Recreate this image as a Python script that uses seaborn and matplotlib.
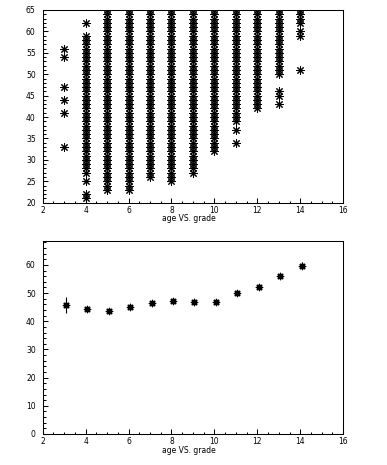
"""
Age vs grade: scatter of all ages per grade and the profile
(mean age per grade with error on the mean).
"""

import numpy as np
import pandas as pd
import matplotlib
matplotlib.use('Agg')
import matplotlib.pyplot as plt
from matplotlib.ticker import MultipleLocator
import seaborn as sns

# ages seen in each grade
ages_g3 = [33, 41, 44, 47, 54, 56]
ages_g4 = [21, 22, 25, 27, 28, 29, 30, 31, 32, 33, 34, 35, 36, 37, 38, 39, 40,
           41, 42, 43, 44, 45, 46, 47, 48, 49, 50, 51, 52, 53, 54, 55, 56, 57,
           58, 59, 62]
ages_g5 = [23, 24, 25, 26, 27, 28, 29, 30, 31, 32, 33, 34, 35, 36, 37, 38, 39,
           40, 41, 42, 43, 44, 45, 46, 47, 48, 49, 50, 51, 52, 53, 54, 55, 56,
           57, 58, 59, 60, 61, 62, 63, 64, 65]
ages_g6 = [23, 24, 25, 26, 27, 28, 29, 30, 31, 32, 33, 34, 35, 36, 37, 38, 39,
           40, 41, 42, 43, 44, 45, 46, 47, 48, 49, 50, 51, 52, 53, 54, 55, 56,
           57, 58, 59, 60, 61, 62, 63, 64, 65]
ages_g7 = [26, 27, 28, 29, 30, 31, 32, 33, 34, 35, 36, 37, 38, 39, 40, 41, 42,
           43, 44, 45, 46, 47, 48, 49, 50, 51, 52, 53, 54, 55, 56, 57, 58, 59,
           60, 61, 62, 63, 64, 65]
ages_g8 = [25, 26, 27, 28, 29, 30, 31, 32, 33, 34, 35, 36, 37, 38, 39, 40, 41,
           42, 43, 44, 45, 46, 47, 48, 49, 50, 51, 52, 53, 54, 55, 56, 57, 58,
           59, 60, 61, 62, 63, 64, 65]
ages_g9 = [27, 28, 29, 30, 31, 32, 33, 34, 35, 36, 37, 38, 39, 40, 41, 42, 43,
           44, 45, 46, 47, 48, 49, 50, 51, 52, 53, 54, 55, 56, 57, 58, 59, 60,
           61, 62, 63, 64, 65]
ages_g10 = [32, 33, 34, 35, 36, 37, 38, 39, 40, 41, 42, 43, 44, 45, 46, 47, 48,
            49, 50, 51, 52, 53, 54, 55, 56, 57, 58, 59, 60, 61, 62, 63, 64, 65]
ages_g11 = [34, 37, 39, 40, 41, 42, 43, 44, 45, 46, 47, 48, 49, 50, 51, 52, 53,
            54, 55, 56, 57, 58, 59, 60, 61, 62, 63, 64, 65]
ages_g12 = [42, 43, 44, 45, 46, 47, 48, 49, 50, 51, 52, 53, 54, 55, 56, 57, 58,
            59, 60, 61, 62, 63, 64, 65]
ages_g13 = [43, 45, 46, 50, 51, 52, 53, 54, 55, 56, 57, 58, 59, 60, 61, 62, 63,
            64, 65]
ages_g14 = [51, 59, 60, 62, 63, 64, 65]

grades = [3, 4, 5, 6, 7, 8, 9, 10, 11, 12, 13, 14]
ages_by_grade = [ages_g3, ages_g4, ages_g5, ages_g6, ages_g7, ages_g8,
                 ages_g9, ages_g10, ages_g11, ages_g12, ages_g13, ages_g14]

# profile: mean age per grade and its error
mean_age = [45.8, 44.5, 43.6, 45.0, 46.4, 47.3, 46.7, 46.7, 49.9, 52.3, 56.0, 59.8]
mean_err = [2.85, 0.45, 0.35, 0.3, 0.3, 0.3, 0.3, 0.3, 0.4, 0.45, 0.6, 1.3]

# build a long table for the scatter
rows = []
for g, ages in zip(grades, ages_by_grade):
    for a in ages:
        rows.append((g, a))
scatter_df = pd.DataFrame(rows, columns=['grade', 'age'])

# profile bins are 0.14 wide, markers sit at the bin centre
half_bin = 0.07
prof_df = pd.DataFrame({'grade': np.array(grades) + half_bin,
                        'age': mean_age, 'err': mean_err})

plt.rcParams['font.family'] = ['DejaVu Sans']
plt.rcParams['axes.linewidth'] = 0.75

star = (8, 2, 0)
label_size = 5.5

fig = plt.figure(figsize=(3.87, 4.65), dpi=100)
ax1 = fig.add_axes([0.1103, 0.5641, 0.7765, 0.4144])
ax2 = fig.add_axes([0.1103, 0.0667, 0.7765, 0.415])

# top: all entries
sns.scatterplot(data=scatter_df, x='grade', y='age', ax=ax1, marker=star,
                color='black', s=30, linewidth=0.75, legend=False)
ax1.set_xlim(2, 16)
ax1.set_ylim(20, 65)
ax1.yaxis.set_major_locator(MultipleLocator(5))
ax1.yaxis.set_minor_locator(MultipleLocator(1))

# bottom: profile
ax2.errorbar(prof_df['grade'], prof_df['age'], yerr=prof_df['err'],
             fmt='none', ecolor='black', elinewidth=0.8, capsize=0)
sns.scatterplot(data=prof_df, x='grade', y='age', ax=ax2, marker=star,
                color='black', s=20, linewidth=1.0, legend=False)
ax2.set_xlim(2, 16)
ax2.set_ylim(0, 68.5)
ax2.yaxis.set_major_locator(MultipleLocator(10))
ax2.yaxis.set_minor_locator(MultipleLocator(2))

for ax in (ax1, ax2):
    ax.xaxis.set_major_locator(MultipleLocator(2))
    ax.xaxis.set_minor_locator(MultipleLocator(0.5))
    ax.tick_params(which='both', direction='in', top=False, right=False,
                   labelsize=label_size, width=0.75)
    ax.tick_params(which='major', length=3.5)
    ax.tick_params(which='minor', length=1.8)
    ax.tick_params(axis='x', pad=2.5)
    ax.tick_params(axis='y', pad=5)
    ax.set_xlabel('age VS. grade', fontsize=label_size)
    ax.set_ylabel('')
    ax.xaxis.label.set_va('center')

ax1.xaxis.set_label_coords(0.485, -0.081)
ax2.xaxis.set_label_coords(0.485, -0.088)

plt.savefig('out.png', dpi=100)
